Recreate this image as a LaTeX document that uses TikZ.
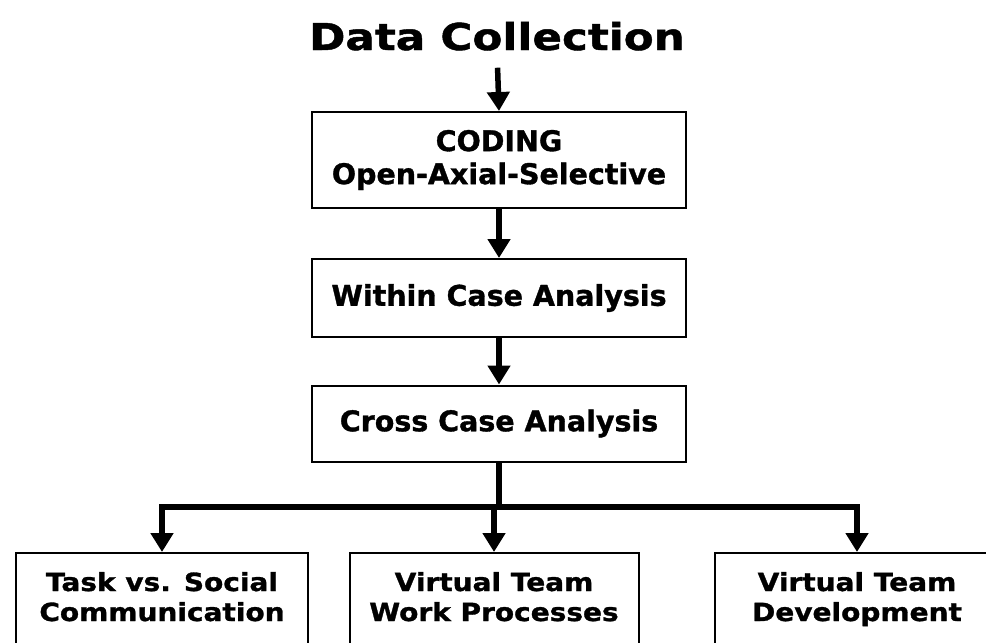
\documentclass[tikz,border=0pt]{standalone}
\usepackage{fontspec}
\usetikzlibrary{arrows.meta}
\newfontfamily\headfont[FakeStretch=1.18,FakeBold=1.2]{DejaVu Sans}
\newfontfamily\boxfont[FakeStretch=1.0,FakeBold=1.2]{DejaVu Sans}
\newfontfamily\leaffont[FakeStretch=1.12,FakeBold=1.2]{DejaVu Sans}

\begin{document}
\begin{tikzpicture}[x=1pt, y=-1pt,
  stagebox/.style={draw=black, line width=2pt, inner sep=0pt, minimum width=374pt,
    align=center, font=\boxfont\bfseries\fontsize{28.5}{33}\selectfont},
  leafbox/.style={draw=black, line width=2pt, anchor=north, inner xsep=0pt, inner ysep=20pt,
    text height=48pt, text depth=70pt, align=center, font=\leaffont\bfseries\fontsize{25}{30}\selectfont},
  flow/.style={-{Triangle[width=22pt,length=19pt]}, line width=5.5pt}]

  \useasboundingbox (0,0) rectangle (986,643);
  \clip (0,0) rectangle (986,643);

  % Title
  \node[inner sep=0pt, anchor=base, font=\headfont\bfseries\fontsize{37}{40}\selectfont] (collect) at (497,50) {Data Collection};

  % Analysis stages
  \node[stagebox, minimum height=96pt] (coding) at (499,160) {CODING\\Open-Axial-Selective};
  \node[stagebox, minimum height=78pt] (within) at (499,298) {Within Case Analysis};
  \node[stagebox, minimum height=76pt] (cross) at (499,423.5) {Cross Case Analysis};

  % Outcome boxes
  \node[leafbox, minimum width=292pt] (task) at (162,552) {Task vs. Social\\Communication};
  \node[leafbox, minimum width=289pt] (work) at (494,552) {Virtual Team\\Work Processes};
  \node[leafbox, minimum width=285pt] (devel) at (857,552) {Virtual Team\\Development};

  % Arrows
  \draw[flow, shorten <=17pt] (collect.south) -- (coding.north);
  \draw[flow] (coding.south) -- (within.north);
  \draw[flow] (within.south) -- (cross.north);

  \coordinate (fork) at (499,507);
  \draw[line width=5.5pt] (cross.south) -- (fork);
  \draw[flow] (fork) -| (task.north);
  \draw[flow] (fork) -| (devel.north);
  \draw[flow] (fork) -| (work.north);
\end{tikzpicture}
\end{document}
